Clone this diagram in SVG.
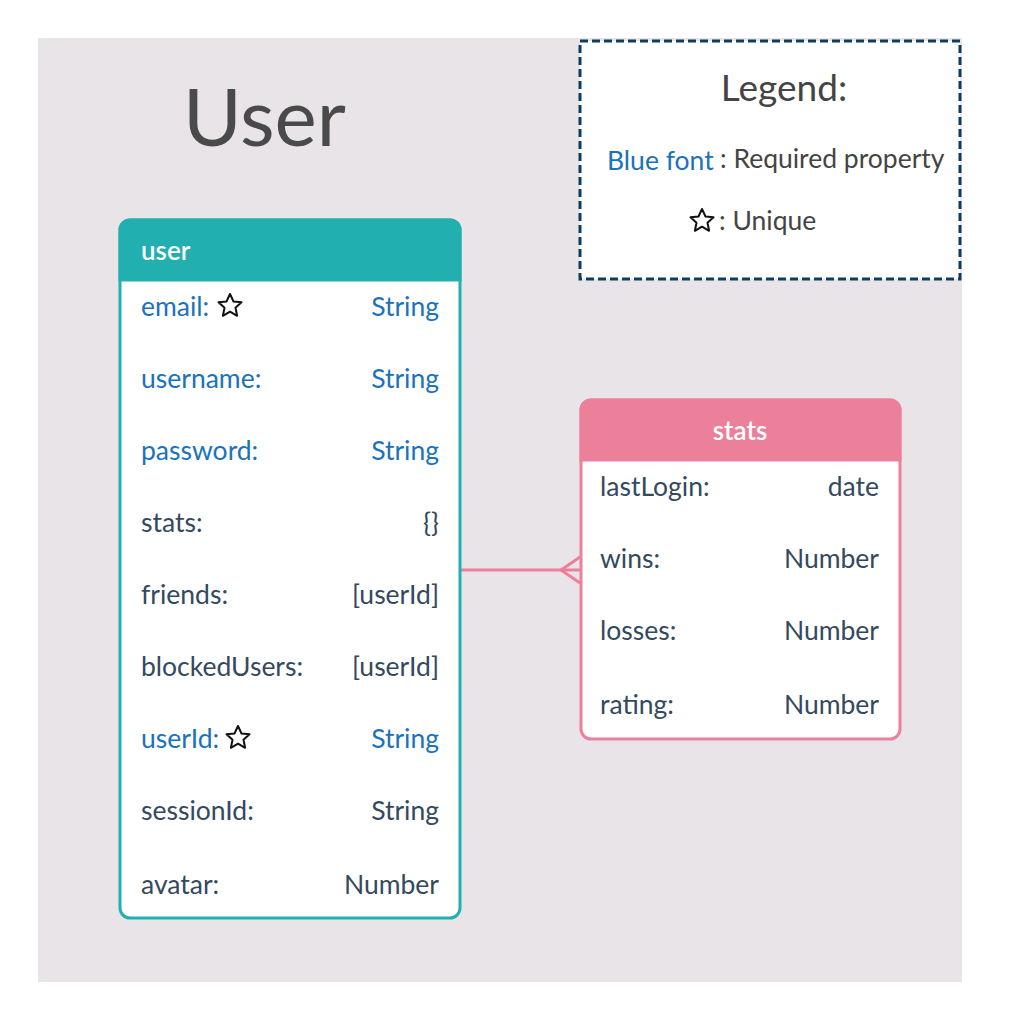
<svg xmlns="http://www.w3.org/2000/svg" width="1020" height="1020" viewBox="0 0 1020 1020">
<style>
text{font-family:Lato,"Open Sans","Liberation Sans",sans-serif;}
.row{font-size:26.5px;fill:#34495e;}
.req{fill:#1b72bc;}
.r{text-anchor:end;}
.hdr{font-size:26px;fill:#ffffff;font-weight:600;}
.star{fill:none;stroke:#111;stroke-width:2;stroke-linejoin:round;}
</style>
<defs>
<path id="star" d="M0,-12 L3.5,-4.5 L11.5,-3.7 L5.5,1.8 L7.1,9.8 L0,5.7 L-7.1,9.8 L-5.5,1.8 L-11.5,-3.7 L-3.5,-4.5 Z"/>
</defs>
<rect x="0" y="0" width="1020" height="1020" fill="#ffffff"/>
<rect x="38" y="38" width="924" height="944" fill="#e8e4e8"/>
<text x="183" y="146" font-size="80" fill="#4a4a4a">User</text>

<g id="legend">
<rect x="580" y="41" width="380" height="238" fill="#ffffff" stroke="#0f3d5e" stroke-width="3" stroke-dasharray="8,4"/>
<text x="784" y="101" font-size="37" fill="#444" text-anchor="middle">Legend:</text>
<text x="607" y="170" font-size="26.5" fill="#1b72bc">Blue font</text>
<text x="720" y="168" font-size="26.5" fill="#444">: Required property</text>
<use href="#star" x="702" y="221" class="star"/>
<text x="719" y="230" font-size="26.5" fill="#444">: Unique</text>
</g>

<g id="connectors">
<line x1="461" y1="570" x2="580" y2="570" stroke="#ec809b" stroke-width="3"/>
<polyline points="580,557 561,570 580,583" fill="none" stroke="#ec809b" stroke-width="3"/>
</g>

<g id="user">
<rect x="120" y="220" width="340" height="698" rx="10" fill="#ffffff" stroke="#22afaf" stroke-width="3"/>
<path d="M120,280 V230 A10,10 0 0 1 130,220 H450 A10,10 0 0 1 460,230 V280 Z" fill="#22afaf" stroke="#22afaf" stroke-width="3"/>
<text x="141" y="260" class="hdr">user</text>
<text x="141" y="316" class="row req">email:</text><use href="#star" x="230" y="306" class="star"/><text x="439" y="316" class="row req r">String</text>
<text x="141" y="388" class="row req">username:</text><text x="439" y="388" class="row req r">String</text>
<text x="141" y="460" class="row req">password:</text><text x="439" y="460" class="row req r">String</text>
<text x="141" y="532" class="row">stats:</text><text x="439" y="532" class="row r">{}</text>
<text x="141" y="604" class="row">friends:</text><text x="439" y="604" class="row r">[userId]</text>
<text x="141" y="676" class="row">blockedUsers:</text><text x="439" y="676" class="row r">[userId]</text>
<text x="141" y="748" class="row req">userId:</text><use href="#star" x="238" y="738" class="star"/><text x="439" y="748" class="row req r">String</text>
<text x="141" y="820" class="row">sessionId:</text><text x="439" y="820" class="row r">String</text>
<text x="141" y="894" class="row">avatar:</text><text x="439" y="894" class="row r">Number</text>
</g>

<g id="stats">
<rect x="581" y="400" width="319" height="339" rx="10" fill="#ffffff" stroke="#ec809b" stroke-width="3"/>
<path d="M581,460 V410 A10,10 0 0 1 591,400 H890 A10,10 0 0 1 900,410 V460 Z" fill="#ec809b" stroke="#ec809b" stroke-width="3"/>
<text x="740" y="440" class="hdr" text-anchor="middle">stats</text>
<text x="600" y="496" class="row">lastLogin:</text><text x="879" y="496" class="row r">date</text>
<text x="600" y="568" class="row">wins:</text><text x="879" y="568" class="row r">Number</text>
<text x="600" y="640" class="row">losses:</text><text x="879" y="640" class="row r">Number</text>
<text x="600" y="714" class="row">rating:</text><text x="879" y="714" class="row r">Number</text>
</g>
</svg>
